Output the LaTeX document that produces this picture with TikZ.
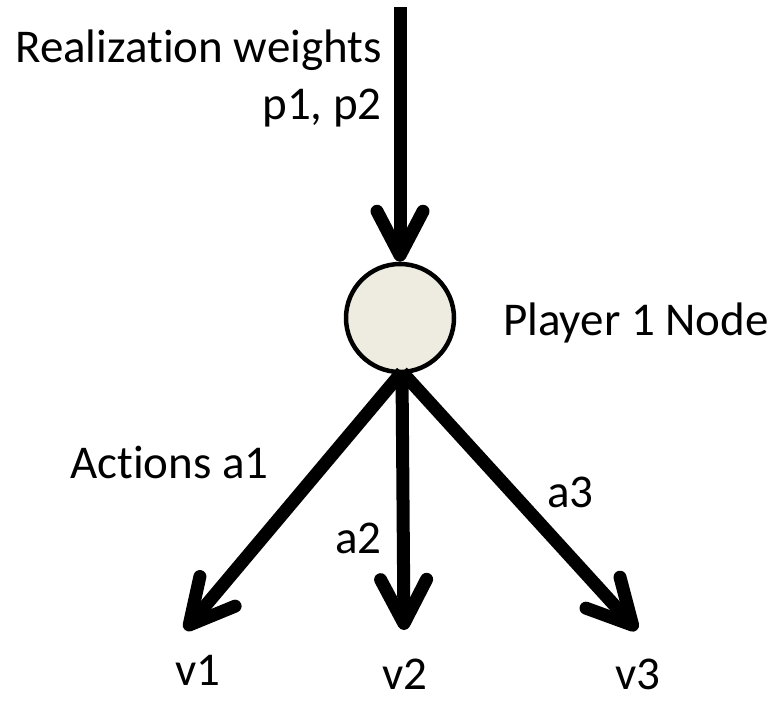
\documentclass[tikz,border=0pt]{standalone}
\usepackage{fontspec}
\setmainfont[Ligatures={NoCommon,NoContextual}]{Carlito}
\usetikzlibrary{arrows.meta}
\definecolor{nodefill}{HTML}{EEECE1}
\tikzset{
  arr/.style={line width=13pt, -{Straight Barb[length=44pt,width=46pt,round]}},
  lbl/.style={inner sep=0pt, font=\fontsize{47}{56}\selectfont},
  pnode/.style={circle, draw=black, line width=4.5pt, fill=nodefill, minimum size=108pt, inner sep=0pt}
}
\begin{document}
\begin{tikzpicture}[x=1pt,y=-1pt]
\useasboundingbox (0,0) rectangle (775,701);
\node[pnode] (p) at (400,318) {};
\coordinate (top) at (400,7);
\coordinate (bot) at (402,372);
\coordinate (t1) at (185,630);
\coordinate (t2) at (404,630);
\coordinate (t3) at (637,630);
\draw[arr] (top) -- (p);
\draw[arr] (bot) -- (t1);
\draw[arr] (bot) -- (t2);
\draw[arr] (bot) -- (t3);
\node[lbl, anchor=base east] (rw) at (382,62) {Realization weights};
\node[lbl, anchor=base east] (pp) at (382,119) {p1, p2};
\node[lbl, anchor=base west] (pl) at (503,335) {Player 1 Node};
\node[lbl, anchor=base west] (ac) at (70,478) {Actions a1};
\node[lbl, anchor=base east] (a2) at (382,553) {a2};
\node[lbl, anchor=base west] (a3) at (547,507) {a3};
\node[lbl, anchor=base west] (v1) at (175,685) {v1};
\node[lbl, anchor=base west] (v2) at (382,689) {v2};
\node[lbl, anchor=base west] (v3) at (615,689) {v3};
\end{tikzpicture}
\end{document}
